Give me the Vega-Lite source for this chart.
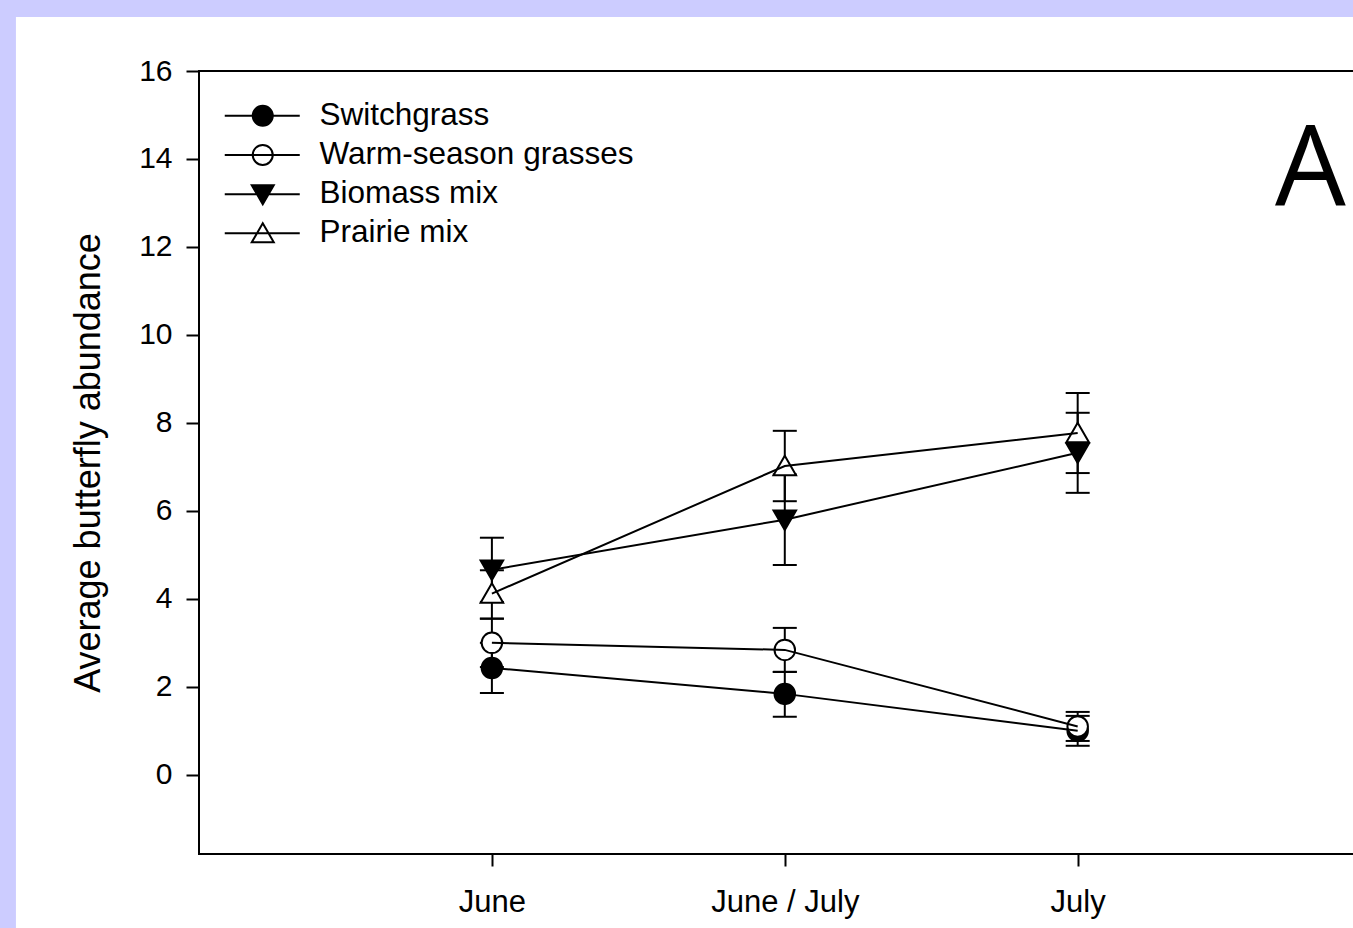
{
  "$schema": "https://vega.github.io/schema/vega-lite/v6.json",
  "width": 1154,
  "height": 783,
  "autosize": {"type": "none"},
  "padding": {"left": 199, "top": 71, "right": 0, "bottom": 74},
  "background": "#ccccff",
  "config": {"view": {"stroke": null}, "font": "Liberation Sans"},
  "data": {
    "values": [
      {"series": "Switchgrass", "month": 1, "mean": 2.43, "lo": 1.86, "hi": 3.0},
      {"series": "Switchgrass", "month": 2, "mean": 1.84, "lo": 1.32, "hi": 2.34},
      {"series": "Switchgrass", "month": 3, "mean": 1.0, "lo": 0.66, "hi": 1.34},
      {"series": "Warm-season grasses", "month": 1, "mean": 3.0, "lo": 2.45, "hi": 3.55},
      {"series": "Warm-season grasses", "month": 2, "mean": 2.84, "lo": 2.34, "hi": 3.34},
      {"series": "Warm-season grasses", "month": 3, "mean": 1.1, "lo": 0.77, "hi": 1.43},
      {"series": "Biomass mix", "month": 1, "mean": 4.66, "lo": 3.93, "hi": 5.39},
      {"series": "Biomass mix", "month": 2, "mean": 5.8, "lo": 4.77, "hi": 6.83},
      {"series": "Biomass mix", "month": 3, "mean": 7.32, "lo": 6.41, "hi": 8.23},
      {"series": "Prairie mix", "month": 1, "mean": 4.12, "lo": 3.55, "hi": 4.65},
      {"series": "Prairie mix", "month": 2, "mean": 7.02, "lo": 6.22, "hi": 7.82},
      {"series": "Prairie mix", "month": 3, "mean": 7.77, "lo": 6.86, "hi": 8.68}
    ]
  },
  "layer": [
    {
      "data": {"values": [{}]},
      "mark": {"type": "rect", "fill": "white", "clip": false},
      "encoding": {
        "x": {
          "datum": -0.625,
          "type": "quantitative",
          "scale": {"domain": [0, 3.94], "nice": false, "zero": false},
          "axis": {
            "values": [1, 2, 3],
            "labelExpr": "datum.value == 1 ? 'June' : datum.value == 2 ? 'June / July' : 'July'",
            "title": null,
            "grid": false,
            "domain": false,
            "tickSize": 12,
            "tickWidth": 2,
            "tickColor": "black",
            "labelColor": "black",
            "labelFontSize": 31,
            "labelPadding": 21,
            "labelFont": "Liberation Sans",
            "zindex": 1
          }
        },
        "x2": {"datum": 3.94},
        "y": {
          "datum": 17.23,
          "type": "quantitative",
          "scale": {"domain": [-1.8, 16], "nice": false, "zero": false},
          "axis": {
            "values": [0, 2, 4, 6, 8, 10, 12, 14, 16],
            "title": "Average butterfly abundance",
            "titleFontSize": 36,
            "titleFontWeight": "normal",
            "titleFont": "Liberation Sans",
            "titleColor": "black",
            "titlePadding": 31,
            "grid": false,
            "domain": false,
            "tickSize": 13,
            "tickWidth": 2,
            "tickColor": "black",
            "labelColor": "black",
            "labelFontSize": 30,
            "labelPadding": 14,
            "labelFont": "Liberation Sans",
            "zindex": 1
          }
        },
        "y2": {"datum": -3.5}
      }
    },
    {
      "data": {"values": [{}]},
      "mark": {"type": "rect", "fillOpacity": 0, "stroke": "black", "strokeWidth": 2, "clip": false},
      "encoding": {
        "x": {"datum": 0, "type": "quantitative"},
        "x2": {"datum": 4.0},
        "y": {"datum": -1.8, "type": "quantitative"},
        "y2": {"datum": 16}
      }
    },
    {
      "mark": {"type": "rule", "color": "black", "strokeWidth": 2},
      "encoding": {
        "x": {"field": "month", "type": "quantitative"},
        "y": {"field": "lo", "type": "quantitative"},
        "y2": {"field": "hi"}
      }
    },
    {
      "mark": {"type": "tick", "orient": "horizontal", "size": 24, "thickness": 2, "color": "black", "opacity": 1},
      "encoding": {
        "x": {"field": "month", "type": "quantitative"},
        "y": {"field": "lo", "type": "quantitative"}
      }
    },
    {
      "mark": {"type": "tick", "orient": "horizontal", "size": 24, "thickness": 2, "color": "black", "opacity": 1},
      "encoding": {
        "x": {"field": "month", "type": "quantitative"},
        "y": {"field": "hi", "type": "quantitative"}
      }
    },
    {
      "mark": {"type": "point", "filled": true, "stroke": "black", "strokeWidth": 2, "size": 420, "opacity": 1},
      "encoding": {
        "x": {"field": "month", "type": "quantitative"},
        "y": {"field": "mean", "type": "quantitative"},
        "shape": {
          "field": "series",
          "type": "nominal",
          "scale": {
            "domain": ["Switchgrass", "Warm-season grasses", "Biomass mix", "Prairie mix"],
            "range": ["circle", "circle", "M -1.1 -0.9 L 1.1 -0.9 L 0 1 Z", "M -1.1 0.9 L 1.1 0.9 L 0 -1 Z"]
          },
          "legend": null
        },
        "fill": {
          "field": "series",
          "type": "nominal",
          "scale": {
            "domain": ["Switchgrass", "Warm-season grasses", "Biomass mix", "Prairie mix"],
            "range": ["black", "white", "black", "white"]
          },
          "legend": null
        }
      }
    },
    {
      "mark": {"type": "line", "color": "black", "strokeWidth": 2},
      "encoding": {
        "x": {"field": "month", "type": "quantitative"},
        "y": {"field": "mean", "type": "quantitative"},
        "detail": {"field": "series", "type": "nominal"}
      }
    },
    {
      "mark": {"type": "point", "filled": true, "stroke": "black", "strokeWidth": 2, "size": 400, "opacity": 0},
      "encoding": {
        "x": {"field": "month", "type": "quantitative"},
        "y": {"field": "mean", "type": "quantitative"},
        "shape": {
          "field": "series",
          "type": "nominal",
          "scale": {
            "domain": ["Switchgrass", "Warm-season grasses", "Biomass mix", "Prairie mix"],
            "range": [
              "M -3.8 0 L 3.7 0 M 1 0 A 1 1 0 1 1 -1 0 A 1 1 0 1 1 1 0 Z",
              "M -3.8 0 L 3.7 0 M 1 0 A 1 1 0 1 1 -1 0 A 1 1 0 1 1 1 0 Z",
              "M -3.8 0 L 3.7 0 M -1.1 -0.9 L 1.1 -0.9 L 0 1 Z",
              "M -3.8 0 L 3.7 0 M -1.1 0.9 L 1.1 0.9 L 0 -1 Z"
            ]
          },
          "legend": {
            "orient": "none",
            "legendX": 48,
            "legendY": 29,
            "title": null,
            "padding": 0,
            "symbolSize": 400,
            "symbolStrokeWidth": 2,
            "symbolStrokeColor": "black",
            "symbolOpacity": 1,
            "labelFontSize": 31.5,
            "labelFont": "Liberation Sans",
            "labelColor": "black",
            "labelOffset": 41,
            "labelLimit": 0,
            "rowPadding": 6.2,
            "zindex": 1,
            "encode": {"symbols": {"update": {"opacity": {"value": 1}, "stroke": {"value": "black"}, "strokeWidth": {"value": 2}}}}
          }
        },
        "fill": {
          "field": "series",
          "type": "nominal",
          "scale": {
            "domain": ["Switchgrass", "Warm-season grasses", "Biomass mix", "Prairie mix"],
            "range": ["black", "white", "black", "white"]
          },
          "legend": {
            "orient": "none",
            "legendX": 48,
            "legendY": 29,
            "title": null,
            "padding": 0,
            "symbolSize": 400,
            "symbolStrokeWidth": 2,
            "symbolStrokeColor": "black",
            "symbolOpacity": 1,
            "labelFontSize": 31.5,
            "labelFont": "Liberation Sans",
            "labelColor": "black",
            "labelOffset": 41,
            "labelLimit": 0,
            "rowPadding": 6.2,
            "zindex": 1,
            "encode": {"symbols": {"update": {"opacity": {"value": 1}, "stroke": {"value": "black"}, "strokeWidth": {"value": 2}}}}
          }
        }
      }
    },
    {
      "data": {"values": [{"label": "A"}]},
      "mark": {"type": "text", "font": "Open Sans", "fontSize": 112, "align": "center", "baseline": "alphabetic", "color": "black", "clip": false},
      "encoding": {
        "x": {"datum": 3.795, "type": "quantitative"},
        "y": {"datum": 12.95, "type": "quantitative"},
        "text": {"field": "label"}
      }
    }
  ],
  "resolve": {"scale": {"shape": "independent", "fill": "independent"}}
}
